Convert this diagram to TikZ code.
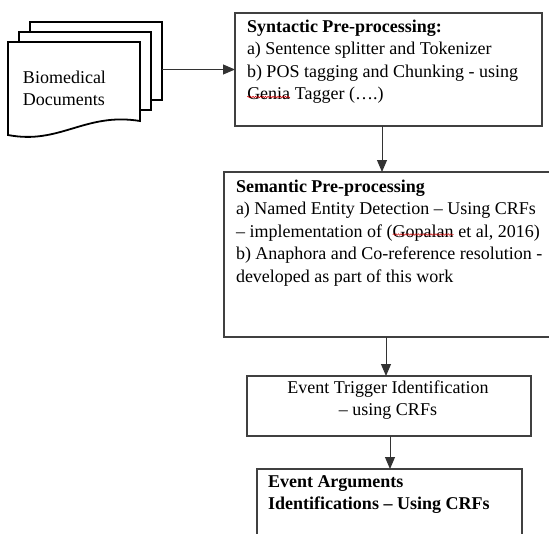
\documentclass[tikz,border=0pt]{standalone}
\usepackage{fontspec}
\setmainfont{Liberation Serif}
\usetikzlibrary{arrows.meta,decorations.pathmorphing,calc}
\newcommand{\spellwave}[1]{\tikz[baseline=(sw.base)]{\node[inner sep=0pt,outer sep=0pt] (sw) {#1};\draw[red!80!black,line width=0.5pt,decorate,decoration={snake,amplitude=0.8pt,segment length=2.5pt}] ($(sw.base west)+(0,-2.5)$) -- ($(sw.base east)+(0,-2.5)$);}}
\newcommand{\linesL}[1]{\begin{tabular}[t]{@{}l@{}}#1\end{tabular}}
\newcommand{\linesC}[1]{\begin{tabular}[t]{@{}c@{}}#1\end{tabular}}
\begin{document}
\begin{tikzpicture}[x=1pt,y=-1pt,
  boxst/.style={draw=black!75,line width=1.3pt,inner sep=0pt,outer sep=0pt},
  txt/.style={inner sep=0pt,outer sep=0pt,font=\fontsize{18}{22.5}\selectfont,anchor=base west},
  page/.style={draw=black,line width=1.8pt,fill=white},
  arr/.style={draw=black!80,line width=1pt,-{Triangle[width=10pt,length=12pt]}}]
\useasboundingbox (0,0) rectangle (549,533);
\clip (0,0) rectangle (549,533);
% document stack
\path[page] (30,22) rectangle (162,100);
\coordinate (doc3) at (162,61);
\path[page] (19,32) rectangle (151,110);
\path[page] (8,42) -- (140,42) -- (140,121) .. controls (85,112) and (60,145) .. (8,135) -- cycle;
\node[txt] (doctxt) at (23,83) {\linesL{Biomedical\\Documents}};
% boxes
\node[boxst,minimum width=307pt,minimum height=113pt,anchor=north west] (box1) at (235,13) {};
\node[boxst,minimum width=340pt,minimum height=165pt,anchor=north west] (box2) at (224,172) {};
\node[boxst,minimum width=284pt,minimum height=60pt,anchor=north west] (box3) at (247,376) {};
\node[boxst,minimum width=265pt,minimum height=90pt,anchor=north west] (box4) at (257,469) {};
% texts
\node[txt] (t1) at (247,32) {\linesL{\textbf{Syntactic Pre-processing:}\\a) Sentence splitter and Tokenizer\\b) POS tagging and Chunking - using\\\spellwave{Genia} Tagger (….)}};
\node[txt] (t2) at (236,192) {\linesL{\textbf{Semantic Pre-processing}\\a) Named Entity Detection – Using CRFs\\– implementation of (\spellwave{Gopalan} et al, 2016)\\b) Anaphora and Co-reference resolution -\\developed as part of this work}};
\node[txt,anchor=base] (t3) at (388,393) {\linesC{Event Trigger Identification\\– using CRFs}};
\node[txt] (t4) at (268,487) {\linesL{\textbf{Event Arguments}\\\textbf{Identifications – Using CRFs}}};
% connectors
\coordinate (xa) at (382,0);
\coordinate (xb) at (386,0);
\coordinate (xc) at (390,0);
\draw[arr] (doc3 |- box1.west) -- (box1.west);
\draw[arr] (box1.south -| xa) -- (box2.north -| xa);
\draw[arr] (box2.south -| xb) -- (box3.north -| xb);
\draw[arr] (box3.south -| xc) -- (box4.north -| xc);
\end{tikzpicture}
\end{document}
